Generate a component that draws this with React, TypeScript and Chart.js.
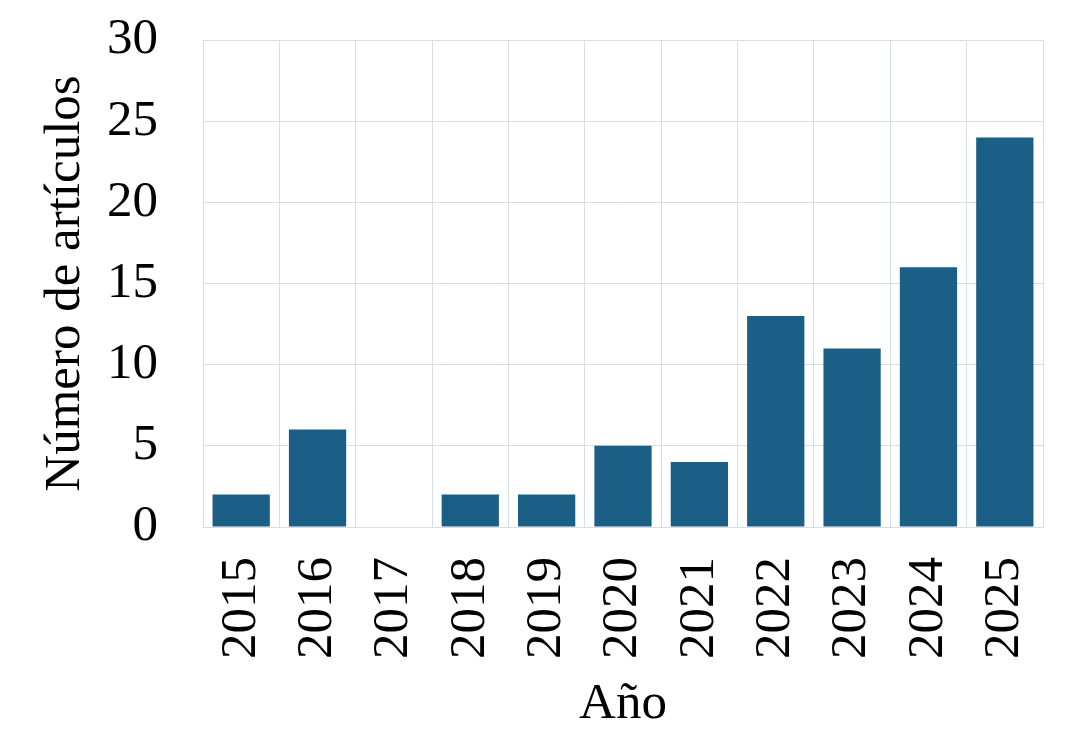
import React, { useEffect, useRef } from "react";
import { Chart, registerables } from "chart.js";

Chart.register(...registerables);

const years = ["2015", "2016", "2017", "2018", "2019", "2020", "2021", "2022", "2023", "2024", "2025"];
const articles = [2, 6, 0, 2, 2, 5, 4, 13, 11, 16, 24];
const yTitle = "Número de artículos";
const xTitle = "Año";

export default function App() {
  const ref = useRef<HTMLCanvasElement | null>(null);
  useEffect(() => {
    document.body.style.margin = "0";
    const font = { family: "'Liberation Serif', 'Times New Roman', serif", size: 51 };
    const grid = "#d9dde4";
    const chart = new Chart(ref.current!, {
      type: "bar",
      data: {
        labels: years,
        datasets: [
          {
            data: articles,
            backgroundColor: "#1c5f86",
            barPercentage: 0.75,
            categoryPercentage: 1,
          },
        ],
      },
      options: {
        animation: false,
        responsive: false,
        layout: { padding: { left: 0, right: 37, top: 40, bottom: 0 } },
        plugins: { legend: { display: false }, tooltip: { enabled: false } },
        scales: {
          x: {
            grid: { color: grid, lineWidth: 1, drawTicks: false, offset: true },
            border: { color: grid },
            ticks: { color: "#000", font, minRotation: 90, maxRotation: 90, padding: 30 },
            title: { display: true, text: xTitle, color: "#000", font, padding: { top: 0, bottom: 10 } },
            afterFit: (s: any) => {
              s.height = 218;
              s.paddingLeft = 0;
              s.paddingRight = 0;
            },
          },
          y: {
            min: 0,
            max: 30,
            grid: { color: grid, lineWidth: 1, drawTicks: false },
            border: { color: grid },
            ticks: { color: "#000", font, stepSize: 5, padding: 45 },
            title: { display: true, text: yTitle, color: "#000", font, padding: { top: 35, bottom: 0 } },
            afterFit: (s: any) => {
              s.width = 203;
              s.paddingTop = 0;
              s.paddingBottom = 0;
            },
          },
        },
      },
    });
    return () => chart.destroy();
  }, []);
  return (
    <div style={{ width: 1080, height: 745, background: "#fff" }}>
      <canvas ref={ref} width={1080} height={745} />
    </div>
  );
}
